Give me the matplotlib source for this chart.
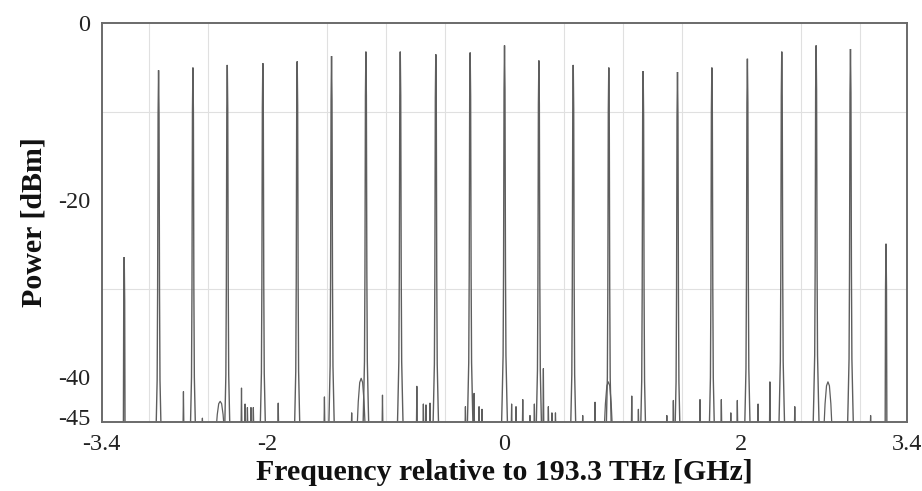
import matplotlib
matplotlib.use("Agg")
import matplotlib.pyplot as plt
import matplotlib.transforms as mtransforms
import numpy as np

# ---- data ----
peak_freq = [-3.21, -2.92, -2.63, -2.34, -2.04, -1.75, -1.46, -1.17, -0.88, -0.58,
             -0.29, 0.00, 0.29, 0.58, 0.88, 1.17, 1.46, 1.75, 2.05, 2.34, 2.63, 2.92, 3.22]
peak_power = [-26.4, -5.3, -5.0, -4.7, -4.5, -4.3, -3.7, -3.2, -3.2, -3.5,
              -3.3, -2.5, -4.2, -4.7, -5.0, -5.4, -5.5, -5.0, -4.0, -3.2, -2.5, -2.9, -24.9]

noise_freq = [-2.71, -2.55, -2.22, -2.19, -2.17, -2.14, -2.12, -1.91, -1.52, -1.29,
              -1.03, -0.74, -0.685, -0.663, -0.629, -0.33, -0.257, -0.215, -0.19, 0.06,
              0.097, 0.154, 0.215, 0.252, 0.328, 0.37, 0.40, 0.43, 0.66, 0.764,
              1.074, 1.13, 1.37, 1.425, 1.65, 1.83, 1.91, 1.965, 2.14, 2.24, 2.45, 3.09]
noise_power = [-41.6, -44.6, -41.2, -43.0, -43.4, -43.4, -43.4, -42.9, -42.2, -44.0,
               -42.0, -41.0, -43.0, -43.1, -42.9, -43.3, -41.8, -43.3, -43.6, -43.0,
               -43.3, -42.5, -44.3, -43.0, -39.0, -43.3, -44.0, -44.0, -44.3, -42.8,
               -42.1, -43.6, -44.3, -42.6, -42.5, -42.5, -44.0, -42.6, -43.0, -40.5, -43.3, -44.3]

bump_freq = [-2.40, -1.21, 0.876, 2.73]
bump_power = [-42.7, -40.1, -40.5, -40.5]

x_ticks = [-3.4, -2, 0, 2, 3.4]
x_ticklabels = ["-3.4", "-2", "0", "2", "3.4"]
y_ticks = [0, -20, -40, -45]
y_ticklabels = ["0", "-20", "-40", "-45"]

# ---- style templates (shapes of the marks) ----
PEAK_DEPTH = np.array([0, 5, 25, 35, 40, 48])
PEAK_HALFW = np.array([0, 0.004, 0.008, 0.012, 0.02, 0.034])
SPIKE_HALFW = 0.004
BUMP_REL = np.array([-1, -0.7, -0.35, 0, 0.35, 0.7, 1])
BUMP_FRAC = np.array([0, 0.55, 0.92, 1, 0.92, 0.55, 0])
BUMP_HALFW = 0.035
FLOOR = -46
LINE_COLOR = "#5e5e5e"

plt.rcParams['font.family'] = ['Liberation Serif', 'DejaVu Serif']

fig = plt.figure(figsize=(9.22, 4.91), dpi=100)
ax = fig.add_axes([0.1103, 0.1411, 0.8738, 0.8114])

for f, p in zip(peak_freq, peak_power):
    xs = np.concatenate([f - PEAK_HALFW[::-1], f + PEAK_HALFW[1:]])
    ys = np.concatenate([p - PEAK_DEPTH[::-1], p - PEAK_DEPTH[1:]])
    ax.plot(xs, ys, color=LINE_COLOR, lw=1.0, solid_joinstyle='miter')

for f, p in zip(noise_freq, noise_power):
    ax.plot([f - SPIKE_HALFW, f, f + SPIKE_HALFW], [FLOOR, p, FLOOR], color=LINE_COLOR, lw=0.9)

for f, p in zip(bump_freq, bump_power):
    ax.plot(f + BUMP_REL * BUMP_HALFW, FLOOR + BUMP_FRAC * (p - FLOOR), color=LINE_COLOR, lw=0.9)

ax.set_xlim(-3.4, 3.4)
ax.set_ylim(-45, 0)

ax.set_xticks(np.arange(-3.0, 3.01, 0.5), minor=True)
ax.set_yticks([-10, -20, -30, -40], minor=True)
ax.grid(which='minor', color='#e0e0e0', lw=0.8)
ax.set_axisbelow(True)

ax.set_xticks(x_ticks)
ax.set_xticklabels(x_ticklabels)
ax.set_yticks(y_ticks)
ax.set_yticklabels(y_ticklabels)
ax.tick_params(which='both', length=0)
ax.tick_params(axis='x', labelsize=17.5, pad=9, colors='#222222')
ax.tick_params(axis='y', labelsize=17.5, pad=8, colors='#222222')
for lab in ax.get_yticklabels():
    if lab.get_text() == "-45":
        lab.set_transform(lab.get_transform() +
                          mtransforms.ScaledTranslation(0, 5 / 100, fig.dpi_scale_trans))

for s in ax.spines.values():
    s.set_color('#6a6a6a')
    s.set_linewidth(1.4)

ax.set_xlabel("Frequency relative to 193.3 THz [GHz]", fontsize=21.5, fontweight='bold',
              labelpad=3, color='#111111')
ax.set_ylabel("Power [dBm]", fontsize=21.5, fontweight='bold', labelpad=8, color='#111111')

fig.savefig("out.png", dpi=100)
